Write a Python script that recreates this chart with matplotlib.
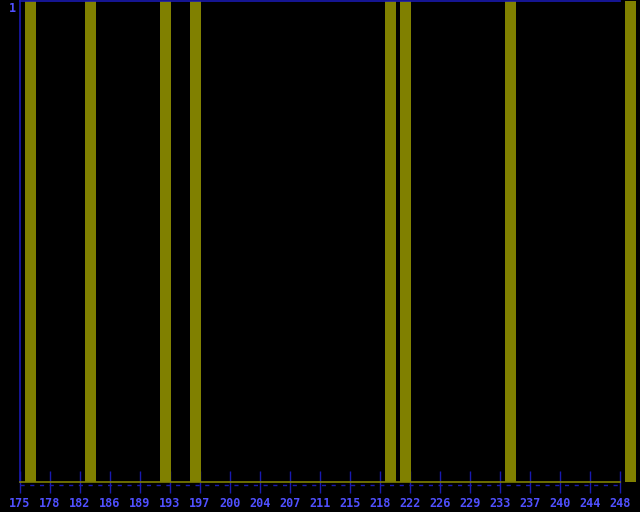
import numpy as np
import matplotlib
matplotlib.use("Agg")
import matplotlib.pyplot as plt

# bins (half a tick step each) and how many hits fell in each
bin_index = list(range(41))
counts = [1, 0, 0, 0, 1, 0, 0, 0, 0, 1, 0, 1, 0, 0, 0, 0, 0, 0, 0, 0,
          0, 0, 0, 0, 1, 1, 0, 0, 0, 0, 0, 0, 1, 0, 0, 0, 0, 0, 0, 0, 1]
tick_labels = ["175", "178", "182", "186", "189", "193", "197", "200", "204", "207",
               "211", "215", "218", "222", "226", "229", "233", "237", "240", "244", "248"]
y_max_label = "1"

OLIVE = "#808000"
BLUE = "#1a1ab0"
TEXT_BLUE = "#5050ff"

fig = plt.figure(figsize=(6.4, 5.12), dpi=100, facecolor="black")
ax = fig.add_axes([20 / 640, 30 / 512, 600 / 640, 481 / 512], facecolor="black")

x = np.array(bin_index)
ax.bar(x + 1 / 3, counts, width=11 / 15, align="edge", color=OLIVE,
       linewidth=0, clip_on=False, zorder=2)

ax.set_xlim(0, 40)
ax.set_ylim(0, 1)

# blue dotted line just under the olive baseline
ax.axhline(-0.006, color=BLUE, lw=1, ls=(0, (3, 4)), clip_on=False, zorder=1)

ax.set_xticks(range(0, 41, 2))
ax.set_xticklabels(tick_labels)
ax.set_yticks([])
for lab in ax.get_xticklabels():
    lab.set_fontfamily("DejaVu Sans Mono")
    lab.set_fontweight("bold")
    lab.set_fontsize(8.5)
    lab.set_color(TEXT_BLUE)
ax.tick_params(axis="x", direction="inout", length=16, width=1, color=BLUE, pad=2.5)

# the single y label sits a little below the top, left of the axis
fig.text(12 / 640, 1 - 8 / 512, y_max_label, ha="center", va="center",
         family="DejaVu Sans Mono", fontweight="bold", fontsize=8.5, color=TEXT_BLUE)

ax.spines["right"].set_visible(False)
ax.spines["top"].set_color(BLUE)
ax.spines["left"].set_color(BLUE)
ax.spines["bottom"].set_color(OLIVE)
for s in ax.spines.values():
    s.set_linewidth(1.2)

fig.savefig("out.png", dpi=100, facecolor="black")
